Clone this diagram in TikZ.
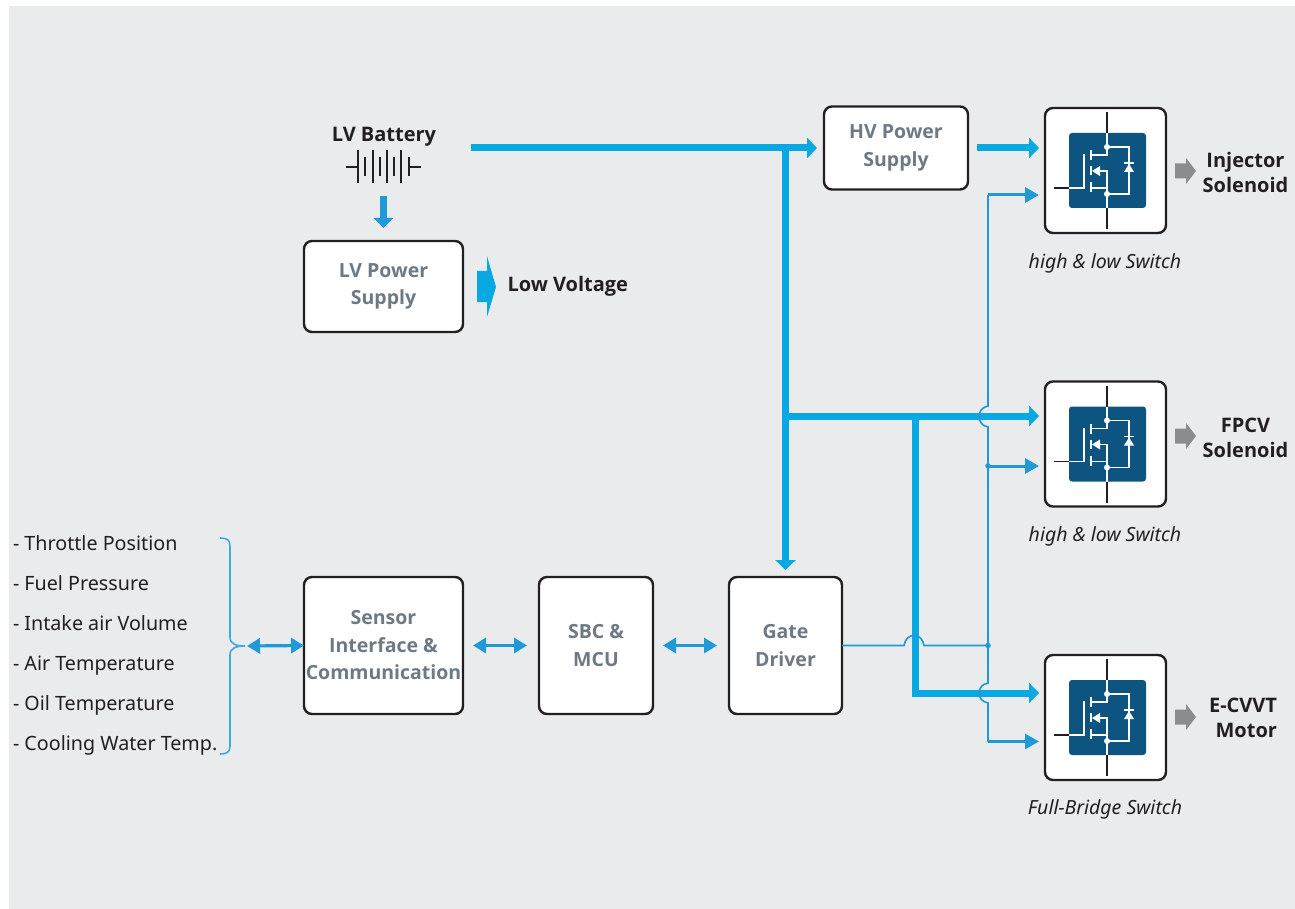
\documentclass[tikz,border=0pt]{standalone}
\usepackage{fontspec}
\setmainfont{Noto Sans}
\newfontfamily\headfont{Open Sans}
\usetikzlibrary{arrows.meta}
\definecolor{panel}{HTML}{EAEBED}
\definecolor{ink}{HTML}{231F20}
\definecolor{mute}{HTML}{6D7A85}
\definecolor{feed}{HTML}{08A8E2}
\definecolor{ctrl}{HTML}{1F9AD6}
\definecolor{chip}{HTML}{0D5580}
\definecolor{outa}{HTML}{8C8C8C}

\begin{document}
\begin{tikzpicture}[x=1pt,y=-1pt,
	every node/.style={font=\fontsize{19.7}{27.5}\selectfont, inner sep=0pt, outer sep=0pt, text=ink},
	box/.style={draw=ink, line width=2.4pt, rounded corners=8pt, fill=white, align=center, text=mute, font=\fontsize{19.5}{27.5}\selectfont\headfont\bfseries},
	tag/.style={align=center, font=\fontsize{20}{25}\selectfont\headfont\bfseries},
	note/.style={font=\fontsize{19.5}{24}\selectfont\itshape},
	signal/.style={anchor=west, text height=19pt, text depth=4.5pt},
	power/.style={draw=feed, line width=7pt, -{Triangle[length=10pt,width=20pt,fill=feed]}},
	gateline/.style={draw=ctrl, line width=1.6pt},
	gatearrow/.style={draw=ctrl, line width=3pt, -{Triangle[length=14pt,width=15pt,fill=ctrl]}},
	link/.style={draw=ctrl, line width=3.2pt, {Triangle[length=13pt,width=15pt,fill=ctrl]}-{Triangle[length=13pt,width=15pt,fill=ctrl]}},
	dot/.style={circle, fill=ctrl, minimum size=5.5pt}]

	\useasboundingbox (0,0) rectangle (1295,909);
	\fill[panel] (9,6) rectangle (1295,909);

	% blocks
	\node[box, minimum width=144pt, minimum height=83pt] (hvsupply) at (896,148) {HV Power\\Supply};
	\node[box, minimum width=159pt, minimum height=91pt] (lvsupply) at (383.5,286.5) {LV Power\\Supply};
	\node[box, minimum width=159pt, minimum height=137pt] (sensor) at (383.5,645.5) {Sensor\\Interface \&\\Communication};
	\node[box, minimum width=114pt, minimum height=137pt] (mcu) at (596,645.5) {SBC \&\\MCU};
	\node[box, minimum width=113pt, minimum height=137pt] (gate) at (785.5,645.5) {Gate\\Driver};
	\node[box, minimum width=121pt, minimum height=125pt] (swa) at (1105.5,170.5) {};
	\node[box, minimum width=121pt, minimum height=125pt] (swb) at (1105.5,444) {};
	\node[box, minimum width=121pt, minimum height=125pt] (swc) at (1105.5,717.5) {};

	% battery
	\node[tag] (battery) at (384,137) {LV Battery};
	\draw[ink, line width=1.6pt] (346,167) -- (358,167) (409,167) -- (421,167);
	\draw[ink, line width=1.6pt] (358,150) -- (358,183) (373,150) -- (373,183) (387,150) -- (387,183) (401,150) -- (401,183);
	\draw[ink, line width=1.6pt] (365,157) -- (365,176) (380,157) -- (380,176) (394,157) -- (394,176) (409,157) -- (409,176);
	\coordinate (battdown) at (383.5,196);
	\coordinate (battout) at (471,148);
	\draw[draw=ctrl, line width=6.5pt, -{Triangle[length=10pt,width=19pt,fill=ctrl]}, shorten >=13pt] (battdown) -- (lvsupply.north);

	% low voltage
	\fill[feed] (477,271) -- (487,271) -- (487,256) -- (496,287) -- (487,317) -- (487,302) -- (477,302) -- cycle;
	\node[tag, anchor=west] (lowvolt) at (507.5,286) {Low Voltage};

	% power rails
	\coordinate (railtop) at (785.5,148);
	\coordinate (railmid) at (785.5,416);
	\coordinate (railsplit) at (915,416);
	\coordinate (railend) at (915,693);
	\coordinate (swain) at (1045,148);
	\coordinate (swbin) at (1045,416);
	\coordinate (swcin) at (1045,693);
	\draw[power, shorten >=7pt] (battout) -- (hvsupply.west);
	\draw[power, shorten >=7pt] (railtop) -- (gate.north);
	\draw[power, shorten >=6pt] (railmid) -- (swbin);
	\draw[power, shorten >=6pt, line join=miter] (railsplit) -- (railend) -- (swcin);
	\draw[power, shorten <=9pt, shorten >=6pt] (hvsupply.east |- swain) -- (swain);

	% gate lines
	\coordinate (gatea) at (1045,195);
	\coordinate (gateb) at (1045,466);
	\coordinate (gatec) at (1045,741.5);
	\node[dot] (branch) at (988,645.5) {};
	\node[dot] (branchb) at (988,466) {};
	\draw[gateline] (gate.east) -- (904,645.5) .. controls (906,632) and (922,632) .. (924,645.5) -- (branch.center);
	\draw[gateline] (branch.center) -- (988,427) .. controls (976,425) and (976,408) .. (988,406) -- (988,195);
	\draw[gateline] (branch.center) -- (988,683) .. controls (976,685) and (976,701) .. (988,703) -- (988,741.5);
	\draw[gatearrow, shorten >=6pt] (branchb.center) -- (gateb);
	\draw[gatearrow, shorten >=6pt] (988,195) -- (gatea);
	\draw[gatearrow, shorten >=6pt] (988,741.5) -- (gatec);

	% sensor side
	\draw[draw=ctrl!85, line width=1.6pt] (220,538) .. controls (227,538) and (230,540) .. (230,546) -- (230,637) .. controls (230,644) and (236,646) .. (245,646) .. controls (236,646) and (230,648) .. (230,655) -- (230,746) .. controls (230,752) and (227,754) .. (220,754);
	\coordinate (busend) at (247,646);
	\draw[link] (busend) -- (sensor.west);
	\draw[link, shorten <=10pt, shorten >=12pt] (sensor.east) -- (mcu.west);
	\draw[link, shorten <=10pt, shorten >=12pt] (mcu.east) -- (gate.west);
	\node[signal] (sigthrottle) at (13,543) {- Throttle Position};
	\node[signal] (sigfuel) at (13,583) {- Fuel Pressure};
	\node[signal] (sigintake) at (13,623) {- Intake air Volume};
	\node[signal] (sigair) at (13,663) {- Air Temperature};
	\node[signal] (sigoil) at (13,703) {- Oil Temperature};
	\node[signal] (sigwater) at (13,743) {- Cooling Water Temp.};

	% switch A
	\begin{scope}[shift={(0,0)}]
		\fill[chip, rounded corners=3pt] (1069,133) rectangle (1146,208);
		\draw[ink, line width=1.6pt] (1107,112) -- (1107,133) (1107,208) -- (1107,229) (1054,188) -- (1069,188);
		\draw[white, line width=1.6pt] (1107,133) -- (1107,155) -- (1091,155) (1107,147) -- (1129,147) -- (1129,194) -- (1107,194);
		\draw[white, line width=1.6pt] (1091,150) -- (1091,160) (1091,166) -- (1091,175) (1091,182) -- (1091,192);
		\draw[white, line width=1.6pt] (1107,208) -- (1107,171) -- (1098,171) (1107,188) -- (1091,188) (1069,188) -- (1084,188) -- (1084,154);
		\draw[white, line width=1.6pt] (1124,163) -- (1134,163);
		\fill[white] (1129,164) -- (1134,172) -- (1124,172) -- cycle;
		\fill[white] (1092,171) -- (1100,166) -- (1100,176) -- cycle;
		\fill[white] (1107,147) circle (3pt) (1107,194) circle (3pt);
	\end{scope}

	% switch B
	\begin{scope}[shift={(0,273.5)}]
		\fill[chip, rounded corners=3pt] (1069,133) rectangle (1146,208);
		\draw[ink, line width=1.6pt] (1107,112) -- (1107,133) (1107,208) -- (1107,229) (1054,188) -- (1069,188);
		\draw[white, line width=1.6pt] (1107,133) -- (1107,155) -- (1091,155) (1107,147) -- (1129,147) -- (1129,194) -- (1107,194);
		\draw[white, line width=1.6pt] (1091,150) -- (1091,160) (1091,166) -- (1091,175) (1091,182) -- (1091,192);
		\draw[white, line width=1.6pt] (1107,208) -- (1107,171) -- (1098,171) (1107,188) -- (1091,188) (1069,188) -- (1084,188) -- (1084,154);
		\draw[white, line width=1.6pt] (1124,163) -- (1134,163);
		\fill[white] (1129,164) -- (1134,172) -- (1124,172) -- cycle;
		\fill[white] (1092,171) -- (1100,166) -- (1100,176) -- cycle;
		\fill[white] (1107,147) circle (3pt) (1107,194) circle (3pt);
	\end{scope}

	% switch C
	\begin{scope}[shift={(0,547)}]
		\fill[chip, rounded corners=3pt] (1069,133) rectangle (1146,208);
		\draw[ink, line width=1.6pt] (1107,112) -- (1107,133) (1107,208) -- (1107,229) (1054,188) -- (1069,188);
		\draw[white, line width=1.6pt] (1107,133) -- (1107,155) -- (1091,155) (1107,147) -- (1129,147) -- (1129,194) -- (1107,194);
		\draw[white, line width=1.6pt] (1091,150) -- (1091,160) (1091,166) -- (1091,175) (1091,182) -- (1091,192);
		\draw[white, line width=1.6pt] (1107,208) -- (1107,171) -- (1098,171) (1107,188) -- (1091,188) (1069,188) -- (1084,188) -- (1084,154);
		\draw[white, line width=1.6pt] (1124,163) -- (1134,163);
		\fill[white] (1129,164) -- (1134,172) -- (1124,172) -- cycle;
		\fill[white] (1092,171) -- (1100,166) -- (1100,176) -- cycle;
		\fill[white] (1107,147) circle (3pt) (1107,194) circle (3pt);
	\end{scope}

	% loads
	\foreach \y in {171,436,717} {
		\fill[outa] (1175,\y-7.5) -- (1186,\y-7.5) -- (1186,\y-13) -- (1196,\y) -- (1186,\y+13) -- (1186,\y+7.5) -- (1175,\y+7.5) -- cycle;
	}
	\node[tag] (loada) at (1245.5,173) {Injector\\Solenoid};
	\node[tag] (loadb) at (1245.5,438) {FPCV\\Solenoid};
	\node[tag, align=right, anchor=east] (loadc) at (1277,718) {E-CVVT\\Motor};
	\node[note] (notea) at (1105,263) {high \& low Switch};
	\node[note] (noteb) at (1105,536) {high \& low Switch};
	\node[note] (notec) at (1105,809) {Full-Bridge Switch};
\end{tikzpicture}
\end{document}
